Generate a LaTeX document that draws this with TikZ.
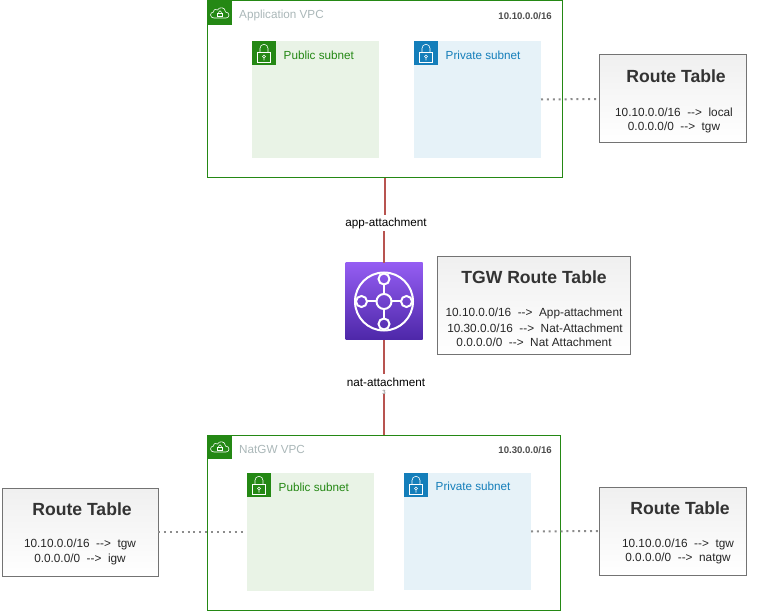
\documentclass[tikz,border=0pt]{standalone}
\usepackage{fontspec}
\setmainfont{Liberation Sans}
\usetikzlibrary{calc}

\definecolor{awsgreen}{HTML}{248814}
\definecolor{awsblue}{HTML}{147EBA}
\definecolor{vpcgray}{HTML}{AAB7B8}
\definecolor{publicfill}{HTML}{E9F3E6}
\definecolor{privatefill}{HTML}{E6F2F8}
\definecolor{linkred}{HTML}{B85450}
\definecolor{titlegray}{HTML}{333333}

\tikzset{
    vpcbox/.style={draw=awsgreen, line width=1pt, inner sep=0pt, outer sep=0pt},
    subnetbox/.style={inner sep=0pt, outer sep=0pt},
    iconbox/.style={minimum size=24pt, inner sep=0pt, outer sep=0pt},
    tablebox/.style={draw=black!55, line width=1pt, top color=black!6, bottom color=white, inner sep=0pt, outer sep=0pt},
    tabletitle/.style={font=\fontsize{17.6}{20}\selectfont\bfseries, text=titlegray, inner sep=0pt},
    tablerow/.style={font=\fontsize{11.8}{14}\selectfont, text=black!85, inner sep=0pt},
    vpclabel/.style={anchor=west, font=\fontsize{11.7}{14}\selectfont, text=vpcgray, inner sep=0pt},
    cidrlabel/.style={anchor=east, font=\fontsize{9.6}{11}\selectfont\bfseries, text=black!70, inner sep=0pt},
    subnetlabel/.style={anchor=west, font=\fontsize{11.7}{14}\selectfont, inner sep=0pt},
    linklabel/.style={font=\fontsize{11.7}{14}\selectfont, inner sep=0pt, minimum height=16pt},
    linkline/.style={draw=linkred, line width=2pt},
    dotline/.style={draw=black!45, line width=2pt, dash pattern=on 2pt off 3.9pt},
    lockicon/.pic={
        \draw[white, line width=0.6pt] (-6.5,-0.3) rectangle (6.5,9.3);
        \draw[white, line width=0.6pt] (-4,-0.3) -- (-4,-4.7) arc[start angle=180, end angle=360, radius=4] -- (4,-0.3);
        \draw[white, line width=0.6pt] (0,3.5) circle (1.5) (0,5) -- (0,7.5);
    },
    cloudicon/.pic={
        \draw[white, line width=0.6pt] (-6,5) .. controls (-10.5,5) and (-10.5,-1) .. (-6.5,-1)
            .. controls (-6.5,-4) and (-3.5,-4) .. (-2.5,-3)
            .. controls (-1,-6.5) and (5.5,-6) .. (5.5,-1)
            .. controls (10,-1) and (10,5) .. (6,5) -- cycle;
        \draw[white, line width=0.6pt] (-2.5,0) rectangle (2.5,3.2);
        \draw[white, line width=0.6pt] (-1.4,0) -- (-1.4,-0.8) arc[start angle=180, end angle=360, radius=1.4] -- (1.4,0);
    }
}

\begin{document}
\begin{tikzpicture}[x=1pt, y=-1pt]
    \useasboundingbox (0,0) rectangle (758,612);

    % Application VPC
    \node[vpcbox, minimum width=355pt, minimum height=177pt] (appvpc) at (385,89.5) {};
    \node[iconbox, fill=awsgreen] (appicon) at (220,13) {};
    \pic at (appicon.center) {cloudicon};
    \node[vpclabel] (apptext) at (239,15) {Application VPC};
    \node[cidrlabel] (appcidr) at (552,16) {10.10.0.0/16};

    \node[subnetbox, fill=publicfill, minimum width=127pt, minimum height=117pt] (apppublic) at (315.5,99.5) {};
    \node[iconbox, fill=awsgreen] (apppublicicon) at (264,53) {};
    \pic at (apppublicicon.center) {lockicon};
    \node[subnetlabel, text=awsgreen] (apppublictext) at (283.5,55) {Public subnet};

    \node[subnetbox, fill=privatefill, minimum width=127pt, minimum height=117pt] (appprivate) at (477.5,99.5) {};
    \node[iconbox, fill=awsblue] (appprivateicon) at (426,53) {};
    \pic at (appprivateicon.center) {lockicon};
    \node[subnetlabel, text=awsblue] (appprivatetext) at (445.5,55) {Private subnet};

    % Route table of the application VPC
    \node[tablebox, minimum width=147pt, minimum height=88pt] (apptable) at (673,99) {};
    \node[tabletitle] (apptabletitle) at (676,76) {Route Table};
    \node[tablerow] (approwa) at (674,112) {10.10.0.0/16~~-{}->~~local};
    \node[tablerow] (approwb) at (674,127) {0.0.0.0/0~~-{}->~~tgw};

    % Transit gateway
    \node[minimum size=77pt, inner sep=0pt, outer sep=0pt, top color={rgb,255:red,148;green,93;blue,242}, bottom color={rgb,255:red,77;green,39;blue,168}] (tgw) at (384,301.5) {};
    \draw[white, line width=2pt] (tgw.center) circle (29) (tgw.center) circle (7.5);
    \foreach \a in {0,90,180,270} {
        \draw[white, line width=2pt] ($(tgw.center)+(\a:22.5)$) circle (5.5);
        \draw[white, line width=2pt] ($(tgw.center)+(\a:7.5)$) -- ($(tgw.center)+(\a:17)$);
    }

    % TGW route table
    \node[tablebox, minimum width=193pt, minimum height=98pt] (tgwtable) at (534,306) {};
    \node[tabletitle] (tgwtabletitle) at (534,277) {TGW Route Table};
    \node[tablerow] (tgwrowa) at (534,313) {10.10.0.0/16~~-{}->~~App-attachment};
    \node[tablerow] (tgwrowb) at (535,328) {10.30.0.0/16~~-{}->~~Nat-Attachment};
    \node[tablerow] (tgwrowc) at (534,342) {0.0.0.0/0~~-{}->~~Nat Attachment};

    % NatGW VPC
    \node[vpcbox, minimum width=353pt, minimum height=175pt] (natvpc) at (384,522.5) {};
    \node[iconbox, fill=awsgreen] (naticon) at (220,447) {};
    \pic at (naticon.center) {cloudicon};
    \node[vpclabel] (nattext) at (239,449) {NatGW VPC};
    \node[cidrlabel] (natcidr) at (552,450) {10.30.0.0/16};

    \node[subnetbox, fill=publicfill, minimum width=127pt, minimum height=118pt] (natpublic) at (310.5,532) {};
    \node[iconbox, fill=awsgreen] (natpublicicon) at (259,485) {};
    \pic at (natpublicicon.center) {lockicon};
    \node[subnetlabel, text=awsgreen] (natpublictext) at (278.5,487) {Public subnet};

    \node[subnetbox, fill=privatefill, minimum width=127pt, minimum height=117pt] (natprivate) at (467.5,531.5) {};
    \node[iconbox, fill=awsblue] (natprivateicon) at (416,485) {};
    \pic at (natprivateicon.center) {lockicon};
    \node[subnetlabel, text=awsblue] (natprivatetext) at (435.5,486) {Private subnet};

    % Route tables of the NatGW VPC
    \node[tablebox, minimum width=156pt, minimum height=88pt] (lefttable) at (80,532) {};
    \node[tabletitle] (lefttabletitle) at (82,509) {Route Table};
    \node[tablerow] (leftrowa) at (80,544) {10.10.0.0/16~~-{}->~~tgw};
    \node[tablerow] (leftrowb) at (80,559) {0.0.0.0/0~~-{}->~~igw};

    \node[tablebox, minimum width=147pt, minimum height=88pt] (righttable) at (673,531) {};
    \node[tabletitle] (righttabletitle) at (680,508) {Route Table};
    \node[tablerow] (rightrowa) at (678,544) {10.10.0.0/16~~-{}->~~tgw};
    \node[tablerow] (rightrowb) at (678,558) {0.0.0.0/0~~-{}->~~natgw};

    % Attachments
    \node[linklabel] (applink) at (386,223) {app-attachment};
    \node[linklabel] (natlink) at (386,382) {nat-attachment};
    \node[font=\fontsize{6}{6}\selectfont, text=black!55, inner sep=0pt] (natmark) at (384,392) {3};
    \draw[linkline] (appvpc.south) -- (applink.north -| appvpc.south);
    \draw[linkline] (applink.south -| tgw.north) -- (tgw.north);
    \draw[linkline] (tgw.south) -- (natlink.north -| tgw.south);
    \draw[linkline] (natmark.south) -- (natvpc.north -| natmark.south);

    % Dotted links to the route tables
    \draw[dotline] (appprivate.east) -- (apptable.west);
    \draw[dotline] (lefttable.east) -- ($(natpublic.west)+(-2,0)$);
    \draw[dotline] (natprivate.east) -- (righttable.west);
\end{tikzpicture}
\end{document}
